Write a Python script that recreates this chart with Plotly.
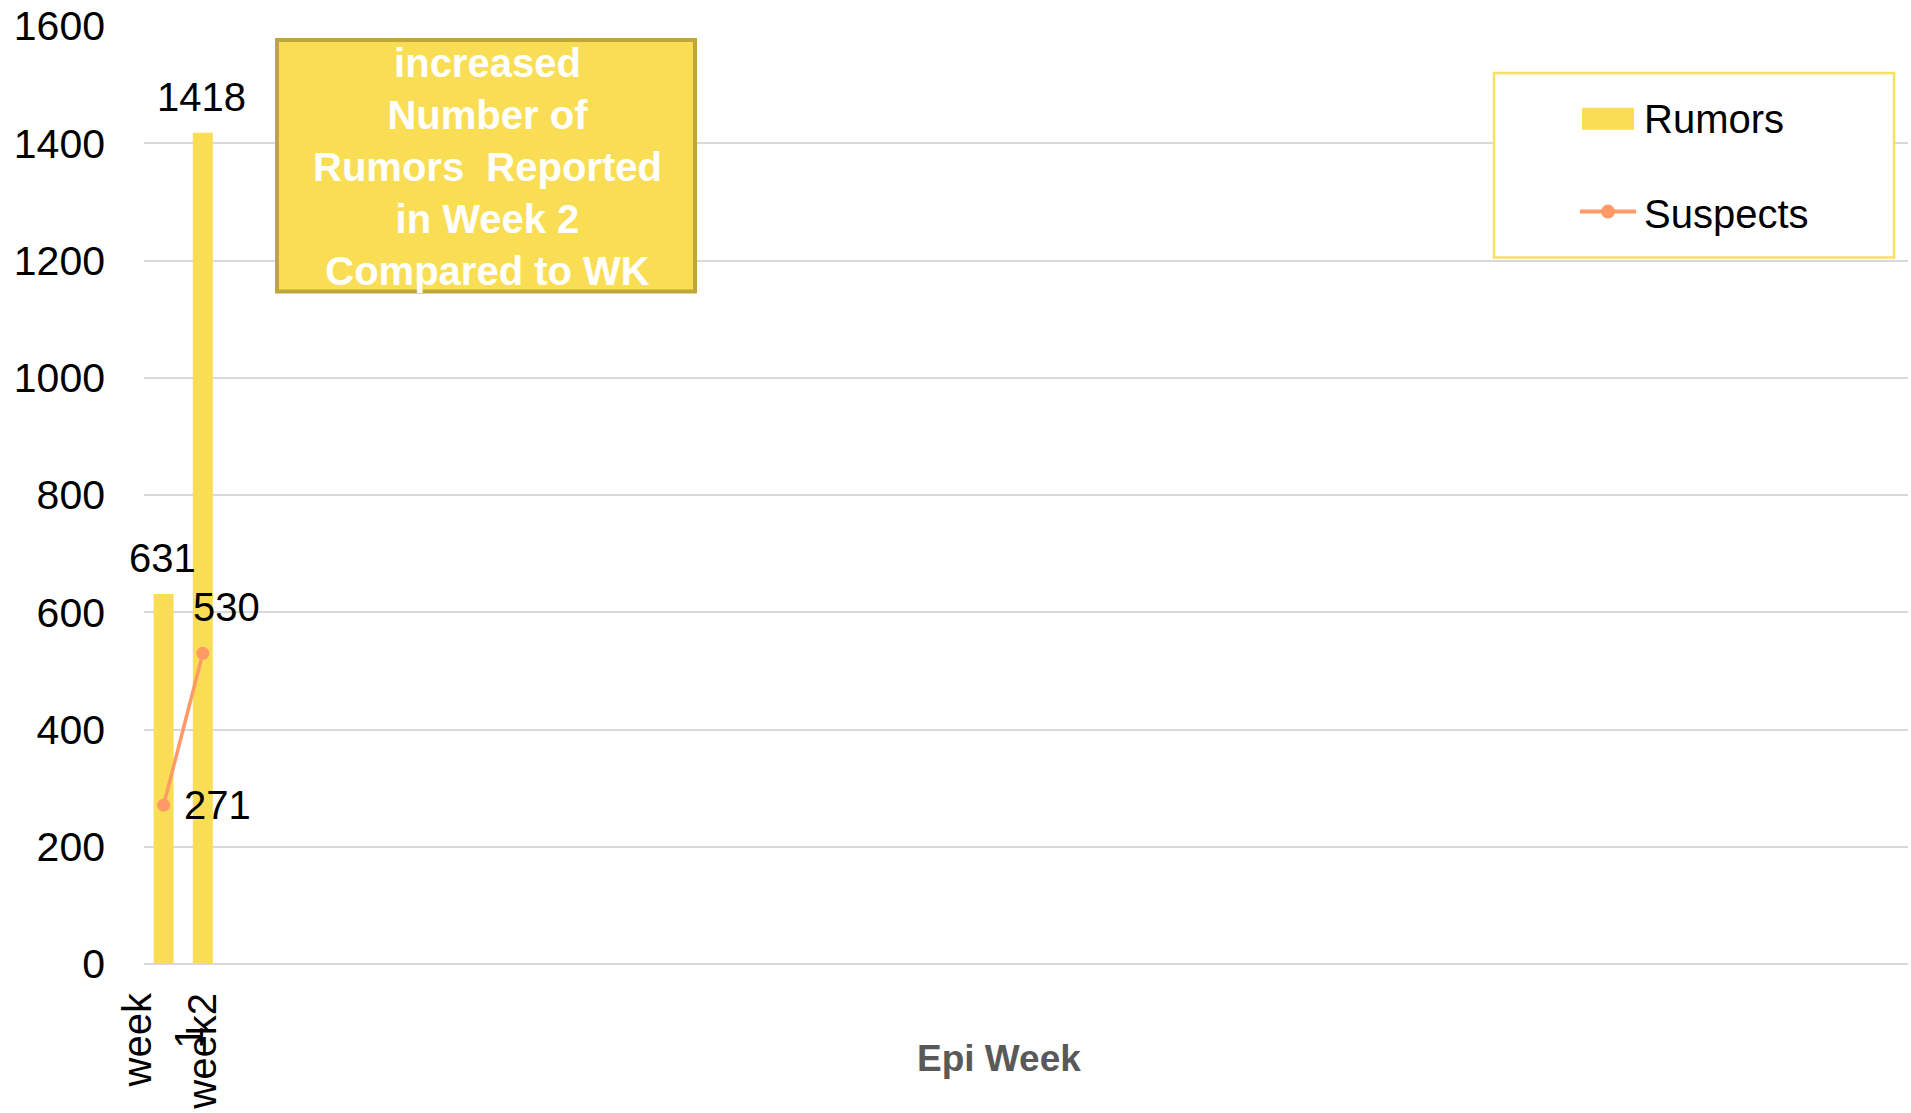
import plotly.graph_objects as go

# ---- data ----
categories = ["week 1", "week2"]
rumors = [631, 1418]
suspects = [271, 530]
n_slots = 45  # empty epi-week slots on the category axis
y_ticks = [0, 200, 400, 600, 800, 1000, 1200, 1400, 1600]
note_lines = ["increased", "Number of", "Rumors  Reported", "in Week 2", "Compared to WK"]

BAR = "#F9DE55"
LINE = "#FF9966"
FONT = "Liberation Sans, Arial, sans-serif"
NB = "\u00a0"

xs = list(range(len(categories)))

fig = go.Figure()
fig.add_trace(go.Bar(
    x=xs, y=rumors, width=0.51, marker=dict(color=BAR, line=dict(width=0)),
    cliponaxis=False, showlegend=False, name="Rumors"))
fig.add_trace(go.Scatter(
    x=xs, y=suspects, mode="lines+markers",
    line=dict(color=LINE, width=3.5), marker=dict(color=LINE, size=13),
    cliponaxis=False, showlegend=False, name="Suspects"))

W, H = 1911, 1113
L, R, T, B = 144, 3, 25, 148
pw, ph = W - L - R, H - T - B

def px(x):
    return (x - L) / pw

def py(y):
    return (H - B - y) / ph

shapes = []
annotations = []

# data labels for the Rumors bars (above bar tops)
for xv, yv in zip(xs, rumors):
    annotations.append(dict(x=xv, y=yv, xref="x", yref="y", text=str(yv), showarrow=False,
                            xanchor="center", yanchor="middle", yshift=36, xshift=-1,
                            font=dict(size=40, color="black", family=FONT)))

# data labels for the Suspects line (right of / above-right of points)
label_shift = [(18, 0), (-12, 46)]
for xv, yv, (dx, dy) in zip(xs, suspects, label_shift):
    annotations.append(dict(x=xv, y=yv, xref="x", yref="y", text=str(yv), showarrow=False,
                            xanchor="left", yanchor="middle", xshift=dx, yshift=dy,
                            font=dict(size=40, color="black", family=FONT)))

# annotation box
shapes.append(dict(type="rect", xref="paper", yref="paper",
                   x0=px(277), x1=px(695), y0=py(291), y1=py(39),
                   fillcolor=BAR, line=dict(color="#BFA53A", width=4), layer="above"))
annotations.append(dict(xref="paper", yref="paper", x=px(487), y=py(166),
                        text="<br>".join(note_lines), showarrow=False,
                        font=dict(size=40, color="white", family=FONT, weight="bold"),
                        align="center", xanchor="center", yanchor="middle"))

# legend
shapes.append(dict(type="rect", xref="paper", yref="paper",
                   x0=px(1494), x1=px(1894), y0=py(257), y1=py(72),
                   fillcolor="white", line=dict(color="#FAE060", width=2.5), layer="above"))
shapes.append(dict(type="rect", xref="paper", yref="paper",
                   x0=px(1582), x1=px(1634), y0=py(129), y1=py(107),
                   fillcolor=BAR, line=dict(width=0), layer="above"))
shapes.append(dict(type="line", xref="paper", yref="paper",
                   x0=px(1580), x1=px(1636), y0=py(211), y1=py(211),
                   line=dict(color=LINE, width=4), layer="above"))
shapes.append(dict(type="circle", xref="paper", yref="paper",
                   x0=px(1601), x1=px(1615), y0=py(218), y1=py(204),
                   fillcolor=LINE, line=dict(width=0), layer="above"))
annotations.append(dict(xref="paper", yref="paper", x=px(1642), y=py(118),
                        text="Rumors", showarrow=False, xanchor="left", yanchor="middle",
                        font=dict(size=40, color="black", family=FONT)))
annotations.append(dict(xref="paper", yref="paper", x=px(1642), y=py(213),
                        text="Suspects", showarrow=False, xanchor="left", yanchor="middle",
                        font=dict(size=40, color="black", family=FONT)))

# x axis title
annotations.append(dict(xref="paper", yref="paper", x=px(999), y=py(1060),
                        text="Epi Week", showarrow=False, xanchor="center", yanchor="middle",
                        font=dict(size=37, color="#595959", family=FONT, weight="bold")))

# wrapped category labels; second line padded so it sits centred under the first
def wrap(c):
    parts = c.split(" ")
    if len(parts) == 1:
        return c
    return parts[0] + "<br>" + " ".join(parts[1:]) + NB * 3

fig.update_layout(
    width=W, height=H,
    margin=dict(l=L, r=R, t=T, b=B, pad=0),
    plot_bgcolor="white", paper_bgcolor="white",
    font=dict(family=FONT, size=40, color="black"),
    shapes=shapes, annotations=annotations,
    xaxis=dict(range=[-0.5, n_slots - 0.5], tickmode="array", tickvals=xs,
               ticktext=[wrap(c) for c in categories],
               tickangle=-90, ticks="", showgrid=False, zeroline=False, showline=False,
               tickfont=dict(size=40, color="black", family=FONT), ticklabelstandoff=20),
    yaxis=dict(range=[0, 1600], tickmode="array", tickvals=y_ticks, ticks="",
               showgrid=True, gridcolor="#D9D9D9", gridwidth=1.5,
               zeroline=True, zerolinecolor="#D9D9D9", zerolinewidth=2, showline=False,
               tickfont=dict(size=41, color="black", family=FONT), ticklabelstandoff=38),
)

fig.write_html("out.html", config={"displayModeBar": False},
               post_script="document.body.style.margin='0';document.body.style.overflow='hidden';")
